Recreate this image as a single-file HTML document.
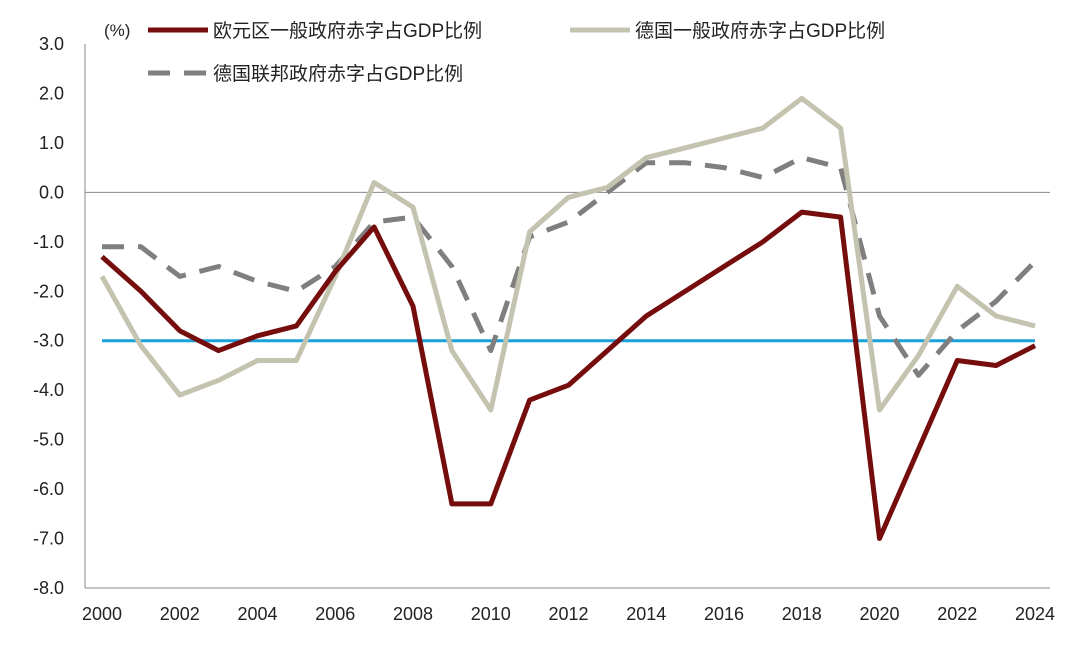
<!DOCTYPE html>
<html><head><meta charset="utf-8"><style>
body{margin:0;background:#fff;}
svg text{font-family:"Liberation Sans","Noto Sans CJK SC",sans-serif;fill:#222;}
</style></head><body>
<svg id="chart" width="1080" height="644" xmlns="http://www.w3.org/2000/svg">
<g id="axes"></g><g id="series"></g><g id="legend"></g>
</svg>
<script>
const years=[2000,2001,2002,2003,2004,2005,2006,2007,2008,2009,2010,2011,2012,2013,2014,2015,2016,2017,2018,2019,2020,2021,2022,2023,2024];
const euroArea=[-1.3,-2.0,-2.8,-3.2,-2.9,-2.7,-1.6,-0.7,-2.3,-6.3,-6.3,-4.2,-3.9,-3.2,-2.5,-2.0,-1.5,-1.0,-0.4,-0.5,-7.0,-5.2,-3.4,-3.5,-3.1];
const germanyGeneral=[-1.7,-3.1,-4.1,-3.8,-3.4,-3.4,-1.7,0.2,-0.3,-3.2,-4.4,-0.8,-0.1,0.1,0.7,0.9,1.1,1.3,1.9,1.3,-4.4,-3.3,-1.9,-2.5,-2.7];
const germanyFederal=[-1.1,-1.1,-1.7,-1.5,-1.8,-2.0,-1.5,-0.6,-0.5,-1.5,-3.2,-0.9,-0.6,0.0,0.6,0.6,0.5,0.3,0.7,0.5,-2.5,-3.7,-2.8,-2.2,-1.4];
const yTicks=[3,2,1,0,-1,-2,-3,-4,-5,-6,-7,-8];
const xTickLabels=[2000,2002,2004,2006,2008,2010,2012,2014,2016,2018,2020,2022,2024];
const threshold=-3;
const NS="http://www.w3.org/2000/svg";
const X=y=>102+(y-2000)*(1035-102)/24;
const Y=v=>44+(3-v)*(588-44)/11;
function mk(tag,attrs,parent){const e=document.createElementNS(NS,tag);for(const k in attrs)e.setAttribute(k,attrs[k]);parent.appendChild(e);return e;}
const axes=document.getElementById('axes'),series=document.getElementById('series'),legend=document.getElementById('legend');
let a=mk('line',{x1:85,y1:44,x2:85,y2:588,stroke:'#888','stroke-width':1},axes);


a=mk('line',{x1:85,y1:588,x2:1050,y2:588,stroke:'#888','stroke-width':1},axes);


a=mk('line',{x1:85,y1:Y(0),x2:1050,y2:Y(0),stroke:'#888','stroke-width':1},axes);


yTicks.forEach(v=>{const t=mk('text',{x:64,y:Y(v)+6,'text-anchor':'end','font-size':18},axes);t.textContent=v.toFixed(1);

});
xTickLabels.forEach(v=>{const t=mk('text',{x:X(v),y:620,'text-anchor':'middle','font-size':18},axes);t.textContent=v;

});
a=mk('line',{x1:102,y1:Y(threshold),x2:1035,y2:Y(threshold),stroke:'#1ba1d9','stroke-width':3},series);


function line(data,color,dash,name){const d=data.map((v,i)=>(i?'L':'M')+X(years[i]).toFixed(1)+' '+Y(v).toFixed(1)).join(' ');
const p=mk('path',{d:d,fill:'none',stroke:color,'stroke-width':5,'stroke-linejoin':'round'},series);if(dash)p.setAttribute('stroke-dasharray',dash);

}
line(germanyFederal,'#7f7f7f','22 14','germany-federal-line');
line(germanyGeneral,'#c4c3b0',null,'germany-general-line');
line(euroArea,'#760d0d',null,'euro-area-line');
let t=mk('text',{x:104,y:36,'font-size':17},legend);t.textContent='(%)';


function leg(x1,y,color,dash,label,name){const l=mk('line',{x1:x1,y1:y,x2:x1+60,y2:y,stroke:color,'stroke-width':5},legend);if(dash)l.setAttribute('stroke-dasharray',dash);
const tx=mk('text',{x:x1+65,y:y+7,'font-size':19},legend);tx.textContent=label;
const g=mk('g',{},legend);g.appendChild(l);g.appendChild(tx);

}
leg(148,30,'#760d0d',null,'欧元区一般政府赤字占GDP比例','legend-euro-area');
leg(570,30,'#c4c3b0',null,'德国一般政府赤字占GDP比例','legend-germany-general');
leg(148,73,'#7f7f7f','22 14','德国联邦政府赤字占GDP比例','legend-germany-federal');
</script>
</body></html>
